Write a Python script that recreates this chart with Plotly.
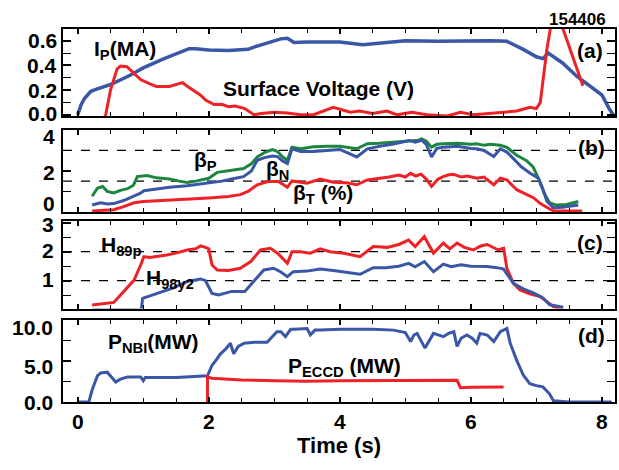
import plotly.graph_objects as go

# ---------------- data ----------------
# (a) plasma current and surface voltage
ip_t = [0.0, 0.05, 0.1, 0.2, 0.3, 0.5, 0.8, 1.0, 1.3, 1.5, 1.7, 1.8, 2.0, 2.3, 2.6, 2.7, 2.9,
        3.1, 3.2, 3.3, 3.5, 4.0, 4.35, 4.6, 5.0, 5.5, 6.0, 6.3, 6.55, 6.8, 7.0, 7.1, 7.18,
        7.4, 7.62, 7.85, 8.0, 8.1, 8.17]
ip_v = [0.0, 0.08, 0.13, 0.19, 0.21, 0.245, 0.32, 0.38, 0.45, 0.49, 0.535, 0.535, 0.525,
        0.52, 0.53, 0.55, 0.58, 0.615, 0.62, 0.585, 0.59, 0.59, 0.567, 0.58, 0.6, 0.595,
        0.6, 0.6, 0.595, 0.53, 0.47, 0.455, 0.5, 0.42, 0.31, 0.22, 0.16, 0.06, 0.0]
sv_t = [0.42, 0.5, 0.6, 0.65, 0.75, 0.85, 0.96, 1.1, 1.2, 1.4, 1.6, 1.7, 1.87, 1.95, 2.08,
        2.2, 2.3, 2.4, 2.55, 2.69, 2.8, 3.0, 3.2, 3.4, 3.6, 3.9, 4.16, 4.3, 4.5, 4.72, 4.87,
        5.1, 5.33, 5.64, 5.84, 6.04, 6.24, 6.45, 6.7, 6.9, 7.0, 7.06, 7.16, 7.23, 7.3, 7.39,
        7.5, 7.6, 7.71]
sv_v = [-0.02, 0.2, 0.37, 0.395, 0.39, 0.34, 0.285, 0.25, 0.23, 0.23, 0.26, 0.22, 0.16,
        0.12, 0.083, 0.085, 0.065, 0.07, 0.05, 0.0, 0.01, 0.02, 0.015, 0.0, 0.0, 0.06, 0.02,
        0.03, 0.01, 0.03, 0.0, 0.02, 0.0, -0.01, 0.02, 0.0, 0.01, 0.02, 0.03, 0.06, 0.05,
        0.1, 0.53, 0.75, 0.8, 0.72, 0.55, 0.4, 0.236]

# (b) beta_P, beta_N, beta_T
bp_t = [0.22, 0.3, 0.38, 0.45, 0.55, 0.65, 0.76, 0.85, 0.91, 1.0, 1.06, 1.2, 1.4, 1.55, 1.67,
        1.8, 2.0, 2.13, 2.3, 2.53, 2.65, 2.74, 2.85, 2.97, 3.05, 3.12, 3.2, 3.27, 3.4, 3.6,
        3.8, 4.0, 4.26, 4.42, 4.6, 4.8, 5.0, 5.08, 5.2, 5.25, 5.32, 5.4, 5.48, 5.58, 5.8,
        6.0, 6.09, 6.2, 6.3, 6.45, 6.55, 6.7, 6.85, 6.95, 7.05, 7.12, 7.2, 7.3, 7.46, 7.64]
bp_v = [0.76, 1.15, 1.24, 1.0, 0.92, 1.05, 1.13, 1.3, 1.72, 1.75, 1.77, 1.66, 1.6, 1.5, 1.43,
        1.5, 1.64, 1.93, 2.0, 2.12, 2.35, 2.68, 2.9, 3.04, 2.95, 2.7, 2.52, 3.16, 3.08, 3.18,
        3.2, 3.2, 3.08, 3.33, 3.35, 3.4, 3.45, 3.49, 3.5, 3.56, 3.45, 3.16, 3.3, 3.33, 3.35,
        3.3, 3.33, 3.25, 3.3, 3.25, 3.15, 2.76, 2.5, 2.2, 1.5, 0.9, 0.45, 0.33, 0.36, 0.5]
bn_t = [0.22, 0.3, 0.35, 0.45, 0.55, 0.7, 0.86, 0.95, 1.01, 1.2, 1.4, 1.67, 1.85, 2.0, 2.2,
        2.35, 2.53, 2.65, 2.74, 2.85, 2.97, 3.05, 3.12, 3.2, 3.27, 3.4, 3.6, 3.8, 4.0, 4.26,
        4.42, 4.6, 4.8, 5.06, 5.15, 5.25, 5.32, 5.4, 5.48, 5.58, 5.8, 6.0, 6.09, 6.2, 6.35,
        6.45, 6.55, 6.65, 6.77, 6.9, 7.03, 7.1, 7.16, 7.26, 7.4, 7.64]
bn_v = [0.33, 0.42, 0.44, 0.38, 0.4, 0.55, 0.76, 0.9, 1.03, 1.12, 1.2, 1.27, 1.35, 1.4, 1.5,
        1.6, 1.72, 2.0, 2.52, 2.65, 2.73, 2.7, 2.5, 2.36, 3.08, 2.95, 2.95, 3.0, 3.05, 2.68,
        3.08, 3.2, 3.3, 3.49, 3.4, 3.5, 3.3, 2.68, 3.1, 3.16, 3.2, 3.1, 3.08, 3.0, 2.7, 3.08,
        2.92, 2.6, 2.2, 1.9, 1.64, 1.1, 0.52, 0.2, 0.22, 0.33]
bt_t = [0.22, 0.4, 0.55, 0.7, 0.86, 1.0, 1.3, 1.67, 2.0, 2.3, 2.48, 2.6, 2.74, 2.9, 3.06,
        3.13, 3.2, 3.27, 3.5, 3.7, 3.9, 4.1, 4.26, 4.42, 4.6, 4.75, 4.9, 5.0, 5.08, 5.16,
        5.24, 5.32, 5.4, 5.5, 5.58, 5.65, 5.73, 5.85, 5.95, 6.09, 6.2, 6.35, 6.45, 6.55, 6.7,
        6.85, 6.96, 7.06, 7.16, 7.26, 7.5, 7.7]
bt_v = [0.04, 0.06, 0.1, 0.25, 0.44, 0.5, 0.55, 0.6, 0.68, 0.75, 0.84, 1.0, 1.32, 1.48, 1.48,
        1.35, 1.2, 1.51, 1.4, 1.6, 1.45, 1.42, 1.32, 1.56, 1.62, 1.7, 1.8, 1.7, 1.88, 1.75,
        1.84, 1.6, 1.24, 1.6, 1.72, 1.8, 1.84, 1.7, 1.75, 1.64, 1.7, 1.32, 1.64, 1.56, 1.08,
        0.85, 0.68, 0.4, 0.2, 0.04, 0.04, 0.04]
beta_ref = [1.5, 3.0]

# (c) confinement factors
h89_t = [0.22, 0.4, 0.55, 0.65, 0.76, 0.86, 0.96, 1.01, 1.1, 1.21, 1.36, 1.5, 1.67, 1.8,
         1.875, 1.95, 2.0, 2.05, 2.13, 2.3, 2.48, 2.64, 2.79, 2.94, 3.05, 3.2, 3.27, 3.4,
         3.55, 3.7, 3.85, 4.06, 4.31, 4.51, 4.72, 4.9, 5.05, 5.15, 5.29, 5.43, 5.58, 5.68,
         5.79, 5.9, 6.04, 6.15, 6.25, 6.42, 6.5, 6.55, 6.65, 6.75, 6.9, 7.06, 7.15, 7.26, 7.41]
h89_v = [0.16, 0.2, 0.25, 0.5, 0.79, 1.02, 1.54, 1.83, 1.8, 1.83, 1.89, 1.95, 2.06, 2.1, 2.2,
         2.15, 2.1, 1.54, 1.37, 1.35, 1.43, 1.66, 2.06, 2.12, 1.95, 1.6, 2.0, 2.0, 1.95, 2.1,
         2.0, 1.95, 1.83, 2.18, 2.15, 2.25, 2.4, 2.18, 2.52, 1.95, 2.3, 2.1, 2.3, 2.15, 2.06,
         2.2, 2.25, 2.06, 2.12, 1.43, 0.91, 0.68, 0.55, 0.45, 0.3, 0.1, 0.0]
h98_t = [0.22, 0.97, 0.99, 1.1, 1.21, 1.45, 1.67, 1.875, 1.95, 2.05, 2.15, 2.35, 2.55, 2.7,
         2.84, 2.99, 3.1, 3.2, 3.29, 3.5, 3.7, 3.9, 4.06, 4.31, 4.51, 4.7, 4.9, 5.05, 5.15,
         5.29, 5.43, 5.58, 5.7, 5.85, 6.0, 6.25, 6.4, 6.5, 6.65, 6.8, 6.96, 7.1, 7.2, 7.41]
h98_v = [0.0, 0.0, 0.39, 0.47, 0.56, 0.74, 0.97, 1.06, 1.0, 0.56, 0.51, 0.63, 0.63, 1.0,
         1.37, 1.43, 1.3, 1.14, 1.31, 1.33, 1.4, 1.35, 1.29, 1.22, 1.45, 1.45, 1.5, 1.6,
         1.48, 1.66, 1.31, 1.57, 1.48, 1.55, 1.5, 1.49, 1.45, 1.4, 0.91, 0.72, 0.57, 0.4,
         0.17, 0.08]
h_ref = [1.0, 2.0]

# (d) heating powers
nbi_t = [0.0, 0.17, 0.22, 0.3, 0.35, 0.45, 0.52, 0.58, 0.65, 0.76, 0.96, 1.0, 1.03, 1.1,
         1.5, 1.98, 2.05, 2.1, 2.18, 2.26, 2.33, 2.38, 2.45, 2.54, 2.7, 2.89, 2.95, 3.04,
         3.1, 3.17, 3.25, 3.3, 3.5, 3.55, 3.62, 3.7, 4.0, 4.5, 4.82, 4.92, 5.0, 5.08, 5.13,
         5.18, 5.3, 5.43, 5.5, 5.58, 5.66, 5.74, 5.79, 5.85, 5.94, 6.02, 6.09, 6.14, 6.25,
         6.35, 6.45, 6.55, 6.6, 6.7, 6.8, 6.9, 7.0, 7.1, 7.2, 7.26, 7.5, 8.15]
nbi_v = [0.0, 0.0, 1.5, 3.2, 3.56, 3.65, 3.0, 2.45, 2.8, 3.06, 3.06, 2.6, 3.0, 3.0, 3.0, 3.2,
         4.5, 5.0, 5.9, 6.5, 7.2, 5.9, 6.8, 7.2, 7.3, 7.3, 7.8, 8.6, 8.6, 8.0, 8.9, 8.9, 9.0,
         8.2, 8.8, 8.8, 8.9, 8.9, 8.8, 8.6, 8.5, 7.4, 8.2, 8.4, 6.6, 8.4, 8.2, 8.0, 8.4, 8.6,
         6.8, 7.8, 8.2, 7.8, 7.2, 8.4, 8.2, 7.4, 8.6, 9.0, 7.2, 5.1, 3.3, 2.25, 2.0, 1.85,
         1.0, 0.15, 0.0, 0.0]
ec_t = [1.98, 1.98, 2.05, 2.5, 3.0, 3.5, 4.0, 4.5, 5.0, 5.5, 5.79, 5.84, 6.0, 6.5]
ec_v = [0.0, 3.07, 2.9, 2.7, 2.6, 2.55, 2.6, 2.6, 2.6, 2.65, 2.65, 1.75, 1.8, 1.85]

x_ticks = [0, 2, 4, 6, 8]
ya_ticks = [0.0, 0.2, 0.4, 0.6]
yb_ticks = [0, 2, 4]
yc_ticks = [0, 1, 2, 3]
yd_ticks = [0.0, 5.0, 10.0]

# ---------------- styling ----------------
BLUE = "#3a56a6"
RED = "#ee2226"
GREEN = "#1e8540"
FONT = "Liberation Sans"
W, H = 619, 470
ML, MR, MT, MB = 63, 4, 29, 68
PW, PH = W - ML - MR, H - MT - MB


def py(y):
    return (H - MB - y) / PH


def px(x):
    return (x - ML) / PW


fig = go.Figure()
LW = 3
fig.add_trace(go.Scatter(x=ip_t, y=ip_v, mode="lines", line=dict(color=BLUE, width=3.5), xaxis="x", yaxis="y"))
fig.add_trace(go.Scatter(x=sv_t, y=sv_v, mode="lines", line=dict(color=RED, width=LW), xaxis="x", yaxis="y"))
fig.add_trace(go.Scatter(x=bp_t, y=bp_v, mode="lines", line=dict(color=GREEN, width=LW), xaxis="x2", yaxis="y2"))
fig.add_trace(go.Scatter(x=bn_t, y=bn_v, mode="lines", line=dict(color=BLUE, width=LW), xaxis="x2", yaxis="y2"))
fig.add_trace(go.Scatter(x=bt_t, y=bt_v, mode="lines", line=dict(color=RED, width=LW), xaxis="x2", yaxis="y2"))
fig.add_trace(go.Scatter(x=h89_t, y=h89_v, mode="lines", line=dict(color=RED, width=LW), xaxis="x3", yaxis="y3"))
fig.add_trace(go.Scatter(x=h98_t, y=h98_v, mode="lines", line=dict(color=BLUE, width=LW), xaxis="x3", yaxis="y3"))
fig.add_trace(go.Scatter(x=nbi_t, y=nbi_v, mode="lines", line=dict(color=BLUE, width=LW), xaxis="x4", yaxis="y4"))
fig.add_trace(go.Scatter(x=ec_t, y=ec_v, mode="lines", line=dict(color=RED, width=LW), xaxis="x4", yaxis="y4"))

for v in beta_ref:
    fig.add_shape(type="line", xref="x2 domain", yref="y2", x0=0, x1=1, y0=v, y1=v,
                  line=dict(color="black", width=1.3, dash="dash"), layer="below")
for v in h_ref:
    fig.add_shape(type="line", xref="x3 domain", yref="y3", x0=0, x1=1, y0=v, y1=v,
                  line=dict(color="black", width=1.3, dash="dash"), layer="below")

tickfont = dict(family=FONT, size=21, color="black", weight="bold")
domains = [
    (py(116), py(29)),
    (py(212), py(130)),
    (py(308.5), py(221)),
    (0.0, py(319.5)),
]
yranges = [[-0.01, 0.695], [-0.01, 4.0], [0.04, 3.06], [0.0, 10.1]]
ytv = [ya_ticks, yb_ticks, yc_ticks, yd_ticks]
yfmt = ["%.1f", "%d", "%d", "%.1f"]
ydt = [0.1, 1, 0.5, 2.5]
# label placement tweaks (pixels, positive = downwards) to mimic the original layout
lab_gap = [4, 6, 7, 8]
lab_down = [[-1.5, 0, 0, 0], [-8.5, 2, 6], [-9.5, -1, -1.5, 2], [0, 5.5, 7]]

layout = dict(
    width=W, height=H,
    margin=dict(l=ML, r=MR, t=MT, b=MB),
    paper_bgcolor="white", plot_bgcolor="white",
    showlegend=False,
    font=dict(family=FONT, color="black"),
)
for i in range(4):
    s = "" if i == 0 else str(i + 1)
    last = i == 3
    layout["xaxis" + s] = dict(
        domain=[0, 1], anchor="y" + s, range=[-0.225, 8.2],
        tickvals=x_ticks, ticks="inside", ticklen=5, tickwidth=1.5, tickcolor="black",
        showticklabels=last, tickfont=tickfont, automargin=False,
        minor=dict(dtick=0.5, tick0=0, ticks="inside", ticklen=4, tickcolor="black", tickwidth=1.2),
        showline=True, linecolor="black", linewidth=2, mirror="allticks",
        showgrid=False, zeroline=False,
        matches=None if i == 0 else "x",
    )
    if last:
        layout["xaxis" + s]["title"] = dict(text="<b>Time (s)</b>", font=dict(family=FONT, size=22, color="black"), standoff=4)
    layout["yaxis" + s] = dict(
        domain=list(domains[i]), anchor="x" + s, range=yranges[i],
        tickvals=ytv[i], ticks="inside", ticklen=8, tickwidth=1.5,
        tickcolor="black", showticklabels=False, automargin=False,
        minor=dict(dtick=ydt[i], tick0=0, ticks="inside", ticklen=8, tickcolor="black", tickwidth=1.2),
        showline=True, linecolor="black", linewidth=2, mirror="allticks",
        showgrid=False, zeroline=False,
    )
fig.update_layout(**layout)

# y tick labels, placed at their values through each axis
for i in range(4):
    s = "" if i == 0 else str(i + 1)
    for k, v in enumerate(ytv[i]):
        fig.add_annotation(text="<b>" + (yfmt[i] % v) + "</b>", x=0, xref="x" + s + " domain",
                           y=v, yref="y" + s, xanchor="right", yanchor="middle",
                           xshift=-lab_gap[i], yshift=-lab_down[i][k], showarrow=False,
                           font=dict(family=FONT, size=21, color="black"))


def ann(text, x, y, xanchor="left", size=21):
    fig.add_annotation(text="<b>" + text + "</b>", x=px(x), y=py(y), xref="paper", yref="paper",
                       xanchor=xanchor, yanchor="middle", showarrow=False,
                       font=dict(family=FONT, size=size, color="black"))


ann("I<sub>P</sub>(MA)", 92, 50)
ann("Surface Voltage (V)", 318, 88, xanchor="center")
ann("154406", 577, 20, xanchor="center", size=17)
ann("(a)", 590, 50, xanchor="center")
ann("β<sub>P</sub>", 192, 161)
ann("β<sub>N</sub>", 264, 170)
ann("β<sub>T</sub> (%)", 291, 194)
ann("(b)", 591, 147, xanchor="center")
ann("H<sub>89p</sub>", 99, 246)
ann("H<sub>98y2</sub>", 144, 279)
ann("(c)", 590, 243, xanchor="center")
ann("P<sub>NBI</sub>(MW)", 106, 343)
ann("P<sub>ECCD</sub> (MW)", 286, 367)
ann("(d)", 591, 335, xanchor="center")

fig.write_html("out.html", config={"displayModeBar": False},
               post_script="document.body.style.margin='0';")
